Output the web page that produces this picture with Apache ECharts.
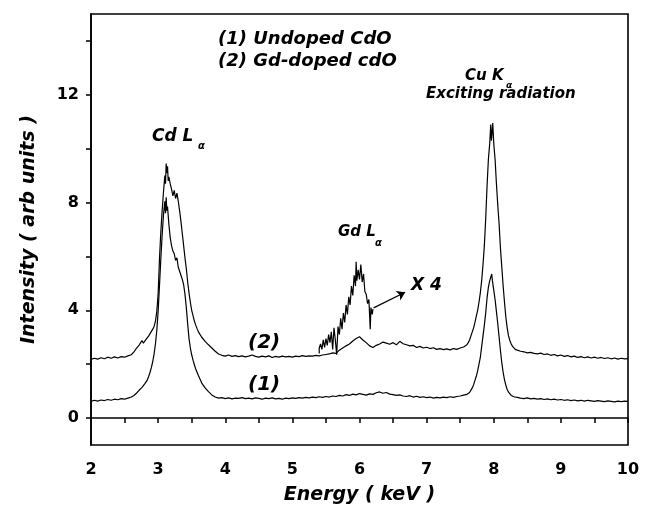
<!DOCTYPE html>
<html>
<head>
<meta charset="utf-8">
<script src="https://cdn.jsdelivr.net/npm/echarts@6/dist/echarts.min.js"></script>
<style>
  html, body { margin: 0; padding: 0; background: #fff; }
  #spectrum { width: 646px; height: 513px; }
</style>
</head>
<body>
<div id="spectrum"></div>
<script>
// EDX spectra, energy (keV) vs intensity (arb units)

var undopedCurve = [
    [2.00,0.62],[2.05,0.66],[2.10,0.63],[2.15,0.67],[2.20,0.65],[2.25,0.69],[2.30,0.66],[2.35,0.70],
    [2.40,0.68],[2.45,0.72],[2.50,0.70],[2.55,0.74],[2.60,0.78],
    [2.62,0.80],[2.64,0.84],[2.66,0.88],[2.68,0.93],[2.70,0.98],[2.72,1.04],[2.74,1.10],[2.76,1.14],
    [2.78,1.20],[2.80,1.27],[2.82,1.33],[2.84,1.42],[2.86,1.55],[2.88,1.70],[2.90,1.88],[2.92,2.10],
    [2.94,2.38],[2.96,2.75],[2.98,3.25],[3.00,3.95],[3.02,4.90],[3.04,5.90],[3.06,6.80],[3.08,7.55],
    [3.10,8.05],[3.11,7.60],[3.12,8.20],[3.13,7.70],[3.14,7.85],[3.16,7.20],[3.18,6.70],[3.20,6.40],
    [3.22,6.20],[3.24,6.10],[3.26,5.85],[3.28,5.95],[3.30,5.60],[3.32,5.45],[3.34,5.30],[3.36,5.15],
    [3.38,4.95],[3.40,4.60],[3.42,4.10],[3.44,3.50],[3.46,2.95],[3.48,2.60],[3.50,2.35],[3.52,2.15],
    [3.54,1.98],[3.56,1.82],[3.58,1.70],[3.60,1.58],
    [3.65,1.30],[3.70,1.12],[3.75,0.98],[3.80,0.86],[3.85,0.78],[3.90,0.74],[3.95,0.76],[4.00,0.72],
    [4.05,0.75],[4.10,0.71],[4.15,0.74],[4.20,0.73],[4.25,0.76],[4.30,0.72],[4.35,0.74],[4.40,0.71],
    [4.45,0.75],[4.50,0.73],[4.55,0.70],[4.60,0.74],[4.65,0.72],[4.70,0.75],[4.75,0.71],[4.80,0.73],
    [4.85,0.70],[4.90,0.74],[4.95,0.72],[5.00,0.75],[5.05,0.73],[5.10,0.76],[5.15,0.74],[5.20,0.77],
    [5.25,0.75],[5.30,0.78],[5.35,0.76],[5.40,0.79],[5.45,0.77],[5.50,0.80],[5.55,0.78],[5.60,0.82],
    [5.65,0.80],[5.70,0.84],[5.75,0.82],[5.80,0.87],[5.85,0.84],[5.90,0.89],[5.95,0.86],[6.00,0.91],
    [6.05,0.88],[6.10,0.85],[6.15,0.90],[6.20,0.88],[6.25,0.94],[6.30,0.97],[6.35,0.92],[6.40,0.95],
    [6.45,0.89],[6.50,0.87],[6.55,0.84],[6.60,0.86],[6.65,0.82],[6.70,0.80],[6.75,0.83],[6.80,0.78],
    [6.85,0.81],[6.90,0.77],[6.95,0.79],[7.00,0.76],[7.05,0.78],[7.10,0.74],[7.15,0.77],[7.20,0.75],
    [7.25,0.78],[7.30,0.76],[7.35,0.79],[7.40,0.77],[7.45,0.80],[7.50,0.82],[7.55,0.85],[7.60,0.88],
    [7.62,0.90],[7.64,0.95],[7.66,1.02],[7.68,1.12],[7.70,1.24],[7.72,1.40],[7.74,1.55],[7.76,1.75],
    [7.78,2.00],[7.80,2.25],[7.82,2.65],[7.84,3.05],[7.86,3.45],[7.88,3.90],[7.90,4.45],[7.92,4.85],
    [7.94,5.10],[7.96,5.05],[7.97,5.35],[7.98,5.10],[8.00,4.75],[8.02,4.40],[8.04,3.95],[8.06,3.50],
    [8.08,3.00],[8.10,2.50],[8.12,2.05],[8.14,1.70],[8.16,1.42],[8.18,1.22],[8.20,1.06],[8.22,0.96],
    [8.24,0.89],[8.26,0.84],[8.28,0.80],[8.30,0.79],[8.32,0.76],[8.35,0.77],[8.40,0.74],
    [8.45,0.72],[8.50,0.75],[8.55,0.71],[8.60,0.73],[8.65,0.70],[8.70,0.72],[8.75,0.69],[8.80,0.71],
    [8.85,0.68],[8.90,0.70],[8.95,0.67],[9.00,0.69],[9.05,0.66],[9.10,0.68],[9.15,0.65],[9.20,0.67],
    [9.25,0.64],[9.30,0.66],[9.35,0.63],[9.40,0.66],[9.45,0.64],[9.50,0.62],[9.55,0.65],[9.60,0.63],
    [9.65,0.61],[9.70,0.64],[9.75,0.62],[9.80,0.60],[9.85,0.63],[9.90,0.61],[9.95,0.63],[10.00,0.62]
];

var dopedCurve = [
    [2.00,2.18],[2.05,2.22],[2.10,2.19],[2.15,2.24],[2.20,2.20],[2.25,2.26],[2.30,2.22],[2.35,2.27],
    [2.40,2.23],[2.45,2.28],[2.50,2.26],[2.55,2.31],[2.60,2.35],
    [2.62,2.40],[2.64,2.46],[2.66,2.52],[2.68,2.60],[2.70,2.66],[2.72,2.72],[2.74,2.80],[2.76,2.88],
    [2.78,2.78],[2.80,2.82],[2.82,2.92],[2.84,2.85],[2.86,3.05],[2.88,3.12],[2.90,3.22],[2.92,3.30],
    [2.94,3.40],[2.96,3.60],[2.98,3.95],[3.00,4.60],[3.02,5.90],[3.04,6.90],[3.06,7.70],[3.08,8.40],
    [3.10,9.00],[3.11,8.70],[3.12,9.45],[3.13,9.10],[3.14,9.35],[3.15,8.80],[3.16,8.95],[3.18,8.70],
    [3.20,8.50],[3.22,8.25],[3.24,8.45],[3.26,8.15],[3.28,8.35],[3.30,8.05],[3.32,7.70],[3.34,7.30],
    [3.36,6.85],[3.38,6.40],[3.40,5.95],[3.42,5.55],[3.44,5.05],[3.46,4.65],[3.48,4.30],[3.50,4.00],
    [3.52,3.80],[3.54,3.60],[3.56,3.45],[3.58,3.32],[3.60,3.20],
    [3.65,3.00],[3.70,2.85],[3.75,2.72],[3.80,2.60],[3.85,2.48],[3.90,2.38],[3.95,2.33],[4.00,2.30],
    [4.05,2.34],[4.10,2.29],[4.15,2.32],[4.20,2.28],[4.25,2.31],[4.30,2.27],[4.35,2.30],[4.40,2.34],
    [4.45,2.29],[4.50,2.26],[4.55,2.30],[4.60,2.27],[4.65,2.31],[4.70,2.25],[4.75,2.29],[4.80,2.26],
    [4.85,2.30],[4.90,2.27],[4.95,2.29],[5.00,2.26],[5.05,2.30],[5.10,2.28],[5.15,2.32],[5.20,2.29],
    [5.25,2.31],[5.30,2.30],[5.35,2.33],[5.40,2.31],[5.45,2.34],[5.50,2.36],[5.55,2.38],[5.60,2.42],
    [5.65,2.40],[5.70,2.52],[5.75,2.60],[5.80,2.68],[5.85,2.75],[5.90,2.86],[5.95,2.95],[6.00,3.02],
    [6.05,2.90],[6.10,2.80],[6.15,2.68],[6.20,2.62],[6.25,2.70],[6.30,2.75],[6.35,2.82],[6.40,2.78],
    [6.45,2.74],[6.50,2.80],[6.55,2.72],[6.60,2.85],[6.65,2.76],[6.70,2.72],[6.75,2.68],[6.80,2.70],
    [6.85,2.62],[6.90,2.66],[6.95,2.60],[7.00,2.63],[7.05,2.58],[7.10,2.61],[7.15,2.55],[7.20,2.58],
    [7.25,2.54],[7.30,2.57],[7.35,2.53],[7.40,2.58],[7.45,2.55],[7.50,2.60],[7.55,2.64],[7.60,2.72],
    [7.62,2.80],[7.64,2.90],[7.66,3.05],[7.68,3.20],[7.70,3.35],[7.72,3.55],[7.74,3.78],[7.76,4.00],
    [7.78,4.30],[7.80,4.65],[7.82,5.10],[7.84,5.70],[7.86,6.40],[7.88,7.40],[7.90,8.60],[7.92,9.60],
    [7.94,10.20],[7.955,10.90],[7.965,10.30],[7.975,10.60],[7.985,10.95],[8.00,10.20],[8.02,9.60],
    [8.04,8.70],[8.06,7.90],[8.08,7.20],[8.10,6.30],[8.12,5.60],[8.14,4.90],[8.16,4.30],[8.18,3.75],
    [8.20,3.35],[8.22,3.05],[8.24,2.88],[8.26,2.75],[8.28,2.66],[8.30,2.60],[8.32,2.55],[8.35,2.52],
    [8.40,2.48],
    [8.45,2.46],[8.50,2.42],[8.55,2.44],[8.60,2.40],[8.65,2.38],[8.70,2.41],[8.75,2.36],[8.80,2.38],
    [8.85,2.33],[8.90,2.36],[8.95,2.31],[9.00,2.34],[9.05,2.29],[9.10,2.32],[9.15,2.27],[9.20,2.30],
    [9.25,2.25],[9.30,2.28],[9.35,2.24],[9.40,2.27],[9.45,2.23],[9.50,2.26],[9.55,2.22],[9.60,2.25],
    [9.65,2.21],[9.70,2.24],[9.75,2.20],[9.80,2.23],[9.85,2.19],[9.90,2.22],[9.95,2.20],[10.00,2.21]
];

// Gd L-alpha region of curve (2), magnified x4
var gdInsetX4 = [
    [5.40,2.40],[5.40,2.60],[5.42,2.75],[5.44,2.55],[5.46,2.90],[5.48,2.62],[5.50,2.95],[5.52,2.70],
    [5.54,3.10],[5.56,2.80],[5.58,3.20],[5.60,2.55],[5.62,3.35],[5.64,2.90],[5.66,2.35],[5.68,3.40],
    [5.70,3.10],[5.72,3.70],[5.74,3.30],[5.76,3.90],[5.78,3.55],[5.80,4.20],[5.82,3.85],[5.84,4.50],
    [5.86,4.20],[5.88,4.90],[5.90,4.55],[5.92,5.30],[5.94,4.90],[5.95,5.80],[5.96,5.10],[5.98,5.50],
    [6.00,5.15],[6.02,5.70],[6.04,5.05],[6.06,5.35],[6.08,4.70],[6.10,4.60],[6.12,4.25],[6.14,4.40],
    [6.16,3.30],[6.17,4.10],[6.19,3.85],[6.20,4.05]
];

var arrowX4 = [[6.21, 4.09], [6.68, 4.67]];

var xTicks = [2, 3, 4, 5, 6, 7, 8, 9, 10];
var yLabels = [0, 4, 8, 12];
var yTicks = [0, 2, 4, 6, 8, 10, 12, 14];

var FONT = 'DejaVu Sans';

var chart = echarts.init(document.getElementById('spectrum'));

function note(text, left, top, size) {
    return {
        type: 'text', left: left, top: top - size / 2, z: 100,
        style: {
            text: text,
            fill: '#000',
            font: 'italic bold ' + size + 'px "' + FONT + '"'
        }
    };
}

var option = {
    animation: false,
    backgroundColor: '#fff',
    grid: {
        left: 91, right: 18, top: 14, bottom: 68,
        show: true, borderColor: '#000', borderWidth: 1.6
    },
    xAxis: {
        type: 'value',
        min: xTicks[0], max: xTicks[xTicks.length - 1], interval: 1,
        name: 'Energy ( keV )',
        nameLocation: 'middle',
        nameGap: 41,
        nameTextStyle: { fontFamily: FONT, fontSize: 19, fontWeight: 'bold', fontStyle: 'italic', color: '#000' },
        axisLine: { lineStyle: { color: '#000', width: 1.6 } },
        axisTick: { inside: false, length: 5, lineStyle: { color: '#000', width: 1.5 } },
        minorTick: { show: true, splitNumber: 2, length: 5, lineStyle: { color: '#000', width: 1.5 } },
        axisLabel: { fontFamily: FONT, fontSize: 16, fontWeight: 'bold', color: '#000', margin: 17 },
        splitLine: { show: false }
    },
    yAxis: {
        type: 'value',
        min: -1, max: 15,
        name: 'Intensity ( arb units )',
        nameLocation: 'middle',
        nameGap: 52,
        nameTextStyle: { fontFamily: FONT, fontSize: 19, fontWeight: 'bold', fontStyle: 'italic', color: '#000' },
        axisLine: { show: true, lineStyle: { color: '#000', width: 1.6 } },
        axisTick: { show: true, length: 5, customValues: yTicks, lineStyle: { color: '#000', width: 1.5 } },
        axisLabel: { fontFamily: FONT, fontSize: 16, fontWeight: 'bold', color: '#000', margin: 12, customValues: yLabels },
        splitLine: { show: false }
    },
    series: [
        {
            name: '(1) Undoped CdO', type: 'line', data: undopedCurve,
            showSymbol: false, lineStyle: { color: '#000', width: 1.2 }
        },
        {
            name: '(2) Gd-doped cdO', type: 'line', data: dopedCurve,
            showSymbol: false, lineStyle: { color: '#000', width: 1.2 }
        },
        {
            name: 'X 4', type: 'line', data: gdInsetX4,
            showSymbol: false, lineStyle: { color: '#000', width: 1.2 }
        },
        {
            type: 'lines', coordinateSystem: 'cartesian2d',
            symbol: ['none', 'arrow'], symbolSize: 8,
            lineStyle: { color: '#000', width: 1.3, opacity: 1 },
            data: [{ coords: arrowX4 }]
        }
    ],
    graphic: [
        note('(1) Undoped CdO', 218, 39, 18),
        note('(2) Gd-doped cdO', 218, 61, 18),
        note('Cd L', 152, 137, 17),
        note('α', 198, 146, 10),
        note('Gd L', 338, 232, 15),
        note('α', 375, 243, 10),
        note('Cu K', 465, 76, 15),
        note('α', 506, 86, 9),
        note('Exciting radiation', 426, 94, 15),
        note('X 4', 411, 286, 17),
        note('(2)', 248, 343, 20),
        note('(1)', 248, 385, 20)
    ]
};

chart.setOption(option);
</script>
</body>
</html>
